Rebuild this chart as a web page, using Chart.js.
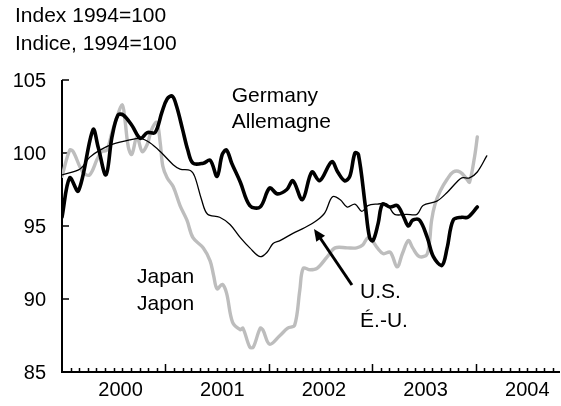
<!DOCTYPE html>
<html>
<head>
<meta charset="utf-8">
<script src="https://cdn.jsdelivr.net/npm/chart.js@4/dist/chart.umd.min.js"></script>
<style>
  html, body { margin: 0; padding: 0; background: #fff; }
</style>
</head>
<body>
<canvas id="chart" width="561" height="406"></canvas>
<script>
// x = months counted from January 2000, y = index (1994=100)
const germanyMonths = [0.0, 0.9, 1.9, 3.6, 4.2, 5.1, 5.8, 6.5, 7.1, 8.1, 9.1, 9.9, 10.8, 11.6, 12.2, 12.8, 13.3, 14.0, 14.6, 15.2,
  16.4, 17.2, 18.0, 18.6, 19.1, 19.7, 20.7, 21.8, 23.0, 24.1, 25.0, 26.1, 26.8, 27.9, 29.0, 29.9, 31.3, 32.0, 32.8, 33.4,
  34.0, 34.4, 35.2, 35.7, 36.1, 36.7, 37.2, 38.1, 38.9, 39.6, 40.2, 40.7, 41.5, 42.4, 43.1, 44.1, 44.7, 45.4, 46.4, 47.1, 48.2];
const germanyIndex = [95.6, 98.3, 97.4, 101.6, 100.4, 98.5, 101.1, 102.6, 102.6, 101.9, 101.0, 101.4, 101.4, 102.8, 103.7, 103.9, 103.2, 101.6, 100.2, 99.3,
  99.3, 99.5, 98.4, 99.9, 100.2, 99.3, 98.0, 96.4, 96.3, 97.6, 97.2, 97.5, 98.1, 96.8, 98.7, 98.1, 99.4, 98.7, 98.1, 98.4,
  100.0, 99.9, 96.4, 94.2, 94.0, 95.2, 96.5, 96.3, 96.4, 95.7, 95.0, 95.4, 95.4, 94.2, 92.9, 92.3, 93.5, 95.4, 95.6, 95.6, 96.3];

const usMonths = [0.0, 2.1, 3.2, 4.4, 5.9, 7.9, 9.1, 10.2, 11.4, 12.9, 13.7, 14.9, 15.4, 16.2, 16.9, 18.3, 19.5, 20.7, 21.8, 23.0,
  23.8, 24.5, 25.3, 26.8, 28.2, 29.6, 30.5, 31.4, 32.3, 33.1, 34.0, 34.8, 35.5, 36.6, 37.7, 38.6, 40.0, 41.2, 41.9, 43.5,
  44.7, 45.8, 46.4, 47.3, 48.2, 49.3];
const usIndex = [98.5, 98.9, 99.7, 100.2, 100.6, 100.9, 101.0, 100.7, 100.1, 99.2, 98.9, 98.8, 98.4, 96.8, 95.8, 95.6, 95.1, 94.2, 93.5, 92.9,
  93.2, 93.8, 94.0, 94.5, 94.9, 95.4, 95.9, 97.0, 96.8, 96.3, 96.5, 96.0, 96.4, 96.5, 96.5, 95.8, 95.8, 95.8, 96.4, 96.7,
  97.3, 98.0, 98.3, 98.3, 98.7, 99.8];

const japanMonths = [0.0, 0.9, 1.3, 2.4, 3.2, 4.1, 4.6, 5.2, 5.8, 6.4, 7.0, 7.3, 7.7, 8.1, 8.7, 9.3, 9.9, 10.4, 11.0, 11.4,
  11.7, 12.2, 12.9, 13.7, 14.5, 15.2, 16.4, 17.2, 17.6, 18.0, 18.6, 19.1, 19.8, 20.7, 21.0, 21.8, 22.2, 23.0, 23.3, 24.1,
  25.3, 26.2, 27.0, 27.6, 28.0, 28.8, 29.6, 30.8, 31.7, 33.1, 34.2, 34.9, 35.5, 36.0, 36.6, 37.3, 38.1, 38.9, 39.5, 40.2,
  40.7, 41.5, 42.4, 42.9, 43.3, 43.9, 44.7, 45.4, 46.2, 47.0, 47.3, 47.9, 48.2];
const japanIndex = [98.4, 100.2, 100.1, 98.7, 98.5, 99.6, 100.1, 100.2, 101.4, 102.5, 103.3, 102.3, 100.4, 99.9, 101.1, 100.1, 100.6, 101.6, 102.1, 100.7,
  99.1, 98.3, 97.7, 96.4, 95.4, 94.2, 93.5, 92.6, 91.6, 90.7, 91.0, 90.4, 88.4, 87.9, 88.0, 86.7, 86.7, 88.0, 87.9, 86.9,
  87.5, 88.0, 88.2, 90.6, 92.1, 92.0, 92.1, 92.9, 93.5, 93.5, 93.5, 93.7, 94.2, 94.0, 93.5, 93.1, 93.2, 92.2, 93.1, 94.0,
  93.5, 92.9, 93.1, 95.4, 96.5, 97.4, 98.2, 98.7, 98.7, 98.2, 98.0, 99.8, 101.1];

const yearLabels = ['2000', '2001', '2002', '2003', '2004'];
const yearLabelMonths = [6.8, 18.6, 30.4, 42.2, 54.0];
const yTicks = [85, 90, 95, 100, 105];

const TICK_FONT = '20px "Liberation Sans", Arial, sans-serif';
const TEXT_FONT = '21px "Liberation Sans", Arial, sans-serif';

function toPoints(xs, ys) {
    return xs.map((x, i) => ({ x: x, y: ys[i] }));
}

// axis lines, inward ticks, tick labels
const axesPlugin = {
    id: 'axes',
    beforeDatasetsDraw(chart) {
        const ctx = chart.ctx;
        const sx = chart.scales.x;
        const sy = chart.scales.y;
        const area = chart.chartArea;
        ctx.save();
        ctx.strokeStyle = '#000';
        ctx.lineWidth = 2;
        ctx.beginPath();
        ctx.moveTo(area.left, sy.getPixelForValue(105));
        ctx.lineTo(area.left, area.bottom);
        ctx.lineTo(area.right, area.bottom);
        ctx.stroke();

        ctx.lineWidth = 1.5;
        ctx.beginPath();
        yTicks.forEach(v => {
            const py = Math.round(sy.getPixelForValue(v));
            ctx.moveTo(area.left, py);
            ctx.lineTo(area.left + 7, py);
        });
        for (let m = 1; m < sx.max; m++) {
            const px = Math.round(sx.getPixelForValue(m)) + 0.5;
            const len = m % 12 === 0 ? 8 : 4;
            ctx.moveTo(px, area.bottom);
            ctx.lineTo(px, area.bottom - len);
        }
        ctx.stroke();

        ctx.fillStyle = '#000';
        ctx.font = TICK_FONT;
        ctx.textAlign = 'right';
        ctx.textBaseline = 'alphabetic';
        yTicks.forEach(v => {
            ctx.fillText(String(v), 46, sy.getPixelForValue(v) + 7);
        });
        ctx.textAlign = 'center';
        yearLabels.forEach((lab, i) => {
            ctx.fillText(lab, sx.getPixelForValue(yearLabelMonths[i]), 396);
        });
        ctx.restore();
    },
    afterDatasetsDraw(chart) {
        const ctx = chart.ctx;
        const sx = chart.scales.x;
        const sy = chart.scales.y;
        ctx.save();
        ctx.fillStyle = '#000';
        ctx.font = TEXT_FONT;
        ctx.textAlign = 'left';
        ctx.textBaseline = 'alphabetic';
        ctx.fillText('Index 1994=100', 15, 22);
        ctx.fillText('Indice, 1994=100', 15, 50);

        const note = (t, m, v) => ctx.fillText(t, sx.getPixelForValue(m), sy.getPixelForValue(v));
        note('Germany', 19.7, 103.5);
        note('Allemagne', 19.7, 101.7);
        note('Japan', 8.7, 91.1);
        note('Japon', 8.7, 89.25);
        note('U.S.', 34.6, 90.07);
        note('É.-U.', 34.6, 88.1);

        // arrow pointing at the U.S. line
        const x0 = sx.getPixelForValue(33.65), y0 = sy.getPixelForValue(90.96);
        const x1 = sx.getPixelForValue(29.25), y1 = sy.getPixelForValue(94.8);
        const ang = Math.atan2(y1 - y0, x1 - x0);
        const head = 13;
        ctx.strokeStyle = '#000';
        ctx.lineWidth = 3;
        ctx.beginPath();
        ctx.moveTo(x0, y0);
        ctx.lineTo(x1 - Math.cos(ang) * (head - 2), y1 - Math.sin(ang) * (head - 2));
        ctx.stroke();
        ctx.beginPath();
        ctx.moveTo(x1, y1);
        ctx.lineTo(x1 - head * Math.cos(ang - 0.42), y1 - head * Math.sin(ang - 0.42));
        ctx.lineTo(x1 - head * Math.cos(ang + 0.42), y1 - head * Math.sin(ang + 0.42));
        ctx.closePath();
        ctx.fill();
        ctx.restore();
    }
};

new Chart(document.getElementById('chart').getContext('2d'), {
    type: 'line',
    data: {
        datasets: [{
            label: 'Germany',
            data: toPoints(germanyMonths, germanyIndex),
            borderColor: '#000',
            borderWidth: 3.6,
            order: 0
        }, {
            label: 'U.S.',
            data: toPoints(usMonths, usIndex),
            borderColor: '#000',
            borderWidth: 1.3,
            order: 1
        }, {
            label: 'Japan',
            data: toPoints(japanMonths, japanIndex),
            borderColor: '#bdbdbd',
            borderWidth: 3.4,
            order: 2
        }]
    },
    options: {
        responsive: false,
        animation: false,
        events: [],
        layout: {
            padding: { left: 62, top: 80, right: 1, bottom: 34 }
        },
        elements: {
            point: { radius: 0 },
            line: { tension: 0.35, fill: false, borderCapStyle: 'round', borderJoinStyle: 'round' }
        },
        scales: {
            x: { type: 'linear', min: 0, max: 57.8, display: false },
            y: { type: 'linear', min: 85, max: 105, display: false }
        },
        plugins: {
            legend: { display: false },
            tooltip: { enabled: false }
        }
    },
    plugins: [axesPlugin]
});
</script>
</body>
</html>
